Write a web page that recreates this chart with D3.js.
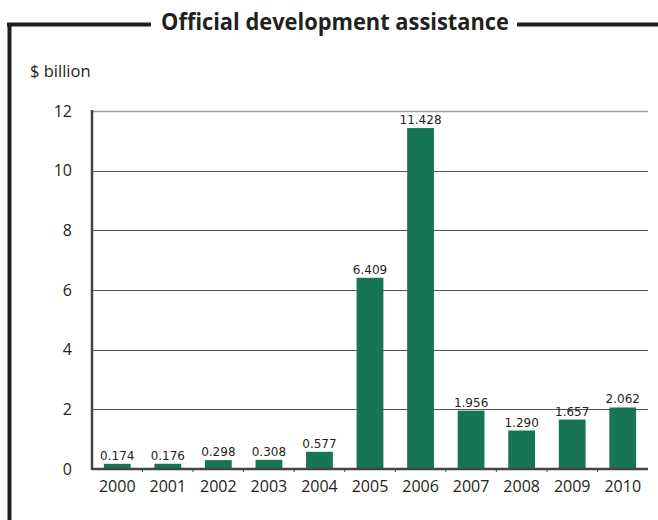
<!DOCTYPE html>
<html>
<head>
<meta charset="utf-8">
<script src="https://cdn.jsdelivr.net/npm/d3@7"></script>
<style>
  html, body { margin: 0; padding: 0; background: #fff; }
  svg { display: block; }
</style>
</head>
<body>
<svg id="chart" width="658" height="520"></svg>
<script>
// Official development assistance, $ billion, 2000–2010
const years = ["2000","2001","2002","2003","2004","2005","2006","2007","2008","2009","2010"];
const values = [0.174, 0.176, 0.298, 0.308, 0.577, 6.409, 11.428, 1.956, 1.290, 1.657, 2.062];
const labels = ["0.174","0.176","0.298","0.308","0.577","6.409","11.428","1.956","1.290","1.657","2.062"];
const yTicks = [0, 2, 4, 6, 8, 10, 12];

const svg = d3.select("#chart");
const plot = { left: 92, right: 648, top: 111, bottom: 469 };

const x = d3.scaleBand()
  .domain(years)
  .range([plot.left, plot.right])
  .paddingInner(0.47)
  .paddingOuter(0.235);

const y = d3.scaleLinear()
  .domain([0, 12])
  .range([plot.bottom, plot.top]);

// Frame: title rule and left border
const title = "Official development assistance";
const font = "'Open Sans', sans-serif";
svg.append("path")
  .attr("d", "M7,24.5 H151 M9.5,23 V520")
  .attr("fill", "none").attr("stroke", "#231f20").attr("stroke-width", 4);
svg.append("path")
  .attr("d", "M517,24.5 H658")
  .attr("fill", "none").attr("stroke", "#231f20").attr("stroke-width", 4);
svg.append("text")
  .attr("x", 335).attr("y", 30)
  .attr("text-anchor", "middle")
  .attr("font-family", font)
  .attr("font-weight", 700)
  .attr("font-size", 23)
  .attr("textLength", 348)
  .attr("lengthAdjust", "spacingAndGlyphs")
  .attr("fill", "#231f20")
  .text(title);

// Unit label
svg.append("text")
  .attr("x", 30).attr("y", 77)
  .attr("font-family", font)
  .attr("font-size", 16.5)
  .attr("fill", "#231f20")
  .text("$ billion");

// Gridlines
svg.append("g")
  .selectAll("line")
  .data(yTicks.filter(d => d > 0))
  .join("line")
  .attr("x1", plot.left).attr("x2", plot.right)
  .attr("y1", d => Math.round(y(d)) + 0.5).attr("y2", d => Math.round(y(d)) + 0.5)
  .attr("stroke", d => d === 12 ? "#9a9a9a" : "#555")
  .attr("stroke-width", d => d === 12 ? 1.5 : 1);

// Y axis labels
const yAxis = d3.axisLeft(y).tickValues(yTicks).tickSize(0).tickPadding(20);
const gy = svg.append("g")
  .attr("transform", `translate(${plot.left},0)`)
  .call(yAxis);
gy.select(".domain").remove();
gy.attr("font-family", font).attr("font-size", 16);
gy.selectAll("text").attr("fill", "#231f20");

// Bars
svg.append("g")
  .selectAll("rect")
  .data(years)
  .join("rect")
  .attr("x", d => x(d))
  .attr("width", x.bandwidth())
  .attr("y", (d, i) => y(values[i]))
  .attr("height", (d, i) => y(0) - y(values[i]))
  .attr("fill", "#177553");

// Value labels
svg.append("g")
  .attr("font-family", "'DejaVu Sans', sans-serif")
  .attr("font-size", 12)
  .selectAll("text")
  .data(years)
  .join("text")
  .attr("x", d => x(d) + x.bandwidth() / 2)
  .attr("y", (d, i) => y(values[i]) - 4)
  .attr("text-anchor", "middle")
  .attr("fill", "#231f20")
  .text((d, i) => labels[i]);

// X axis with category boundary ticks
const xAxis = d3.axisBottom(x).tickSize(0).tickPadding(12);
const gx = svg.append("g")
  .attr("transform", `translate(0,${plot.bottom})`)
  .call(xAxis);
gx.select(".domain").remove();
gx.attr("font-family", font).attr("font-size", 16);
gx.selectAll("text").attr("fill", "#231f20");

svg.append("g")
  .selectAll("line")
  .data(years.slice(1))
  .join("line")
  .attr("x1", d => x(d) - x.step() * x.paddingInner() / 2)
  .attr("x2", d => x(d) - x.step() * x.paddingInner() / 2)
  .attr("y1", plot.bottom).attr("y2", plot.bottom + 3)
  .attr("stroke", "#444").attr("stroke-width", 1);

// Axis lines
svg.append("line")
  .attr("x1", plot.left).attr("x2", plot.right)
  .attr("y1", plot.bottom).attr("y2", plot.bottom)
  .attr("stroke", "#444").attr("stroke-width", 2.5);
svg.append("line")
  .attr("x1", plot.left).attr("x2", plot.left)
  .attr("y1", plot.top - 1).attr("y2", plot.bottom + 1)
  .attr("stroke", "#444").attr("stroke-width", 2.5);
</script>
</body>
</html>
